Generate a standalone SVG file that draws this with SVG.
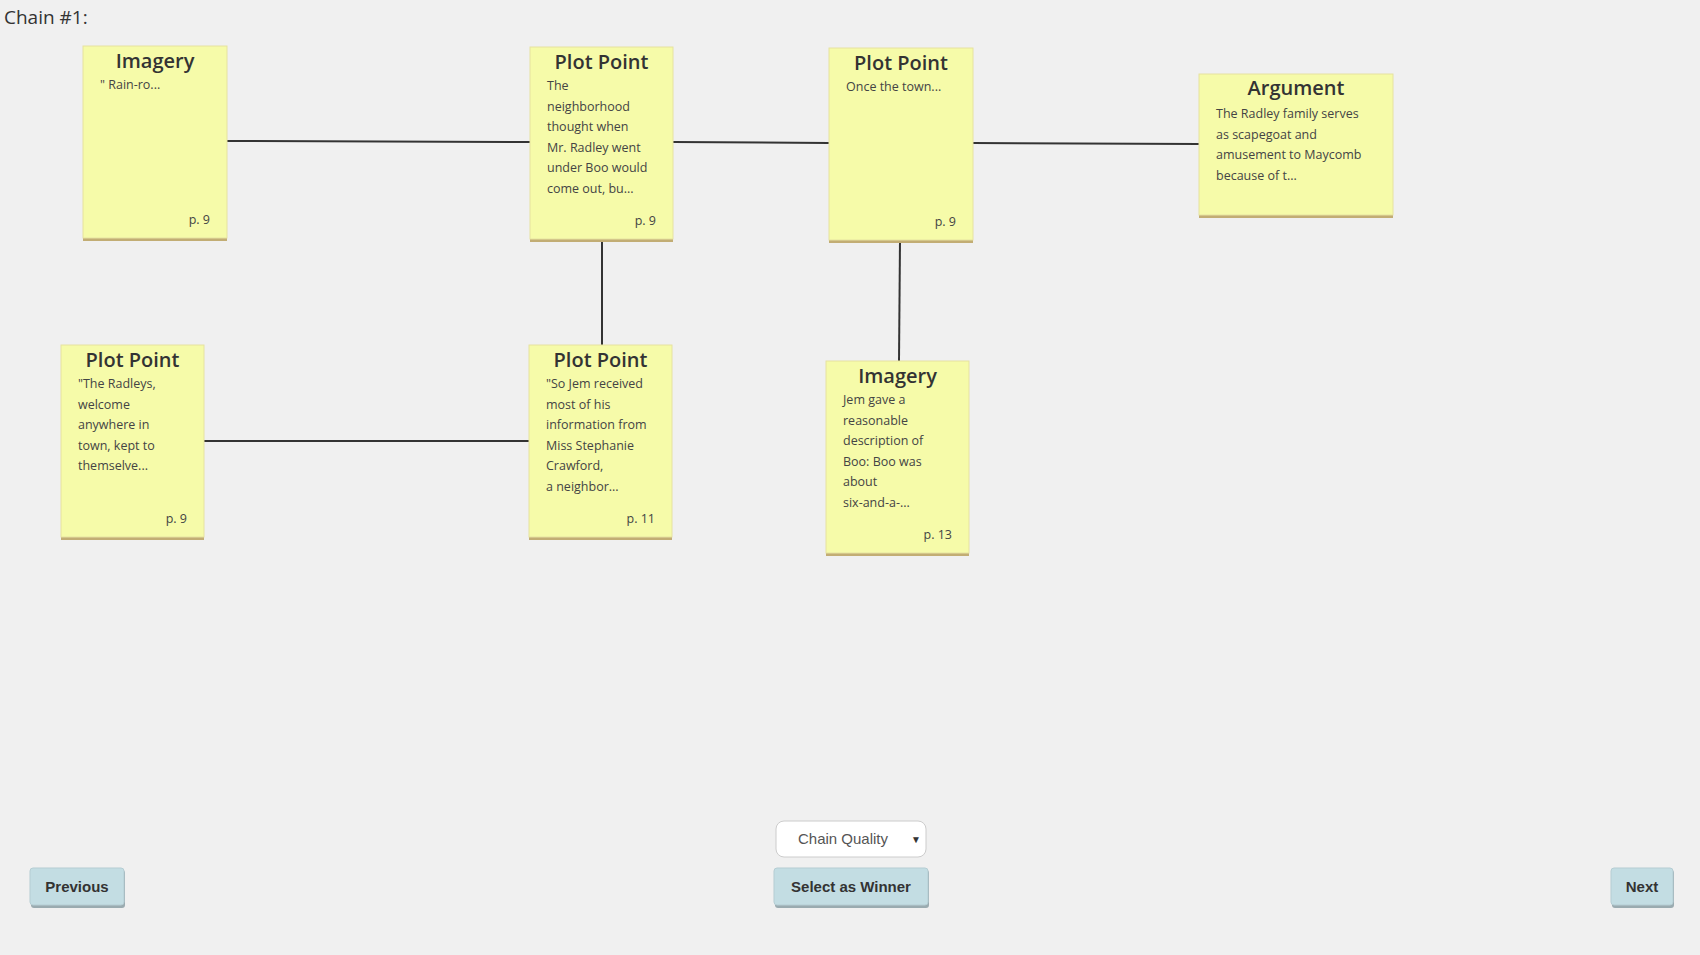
<svg xmlns="http://www.w3.org/2000/svg" width="1700" height="955" viewBox="0 0 1700 955">
<style>
.note{fill:#f6fba9;stroke:#e6e2a0;stroke-width:1}
.shadow{fill:#c2ad74}
.t{font-family:"Open Sans","Liberation Sans",sans-serif;font-size:20px;fill:#333;text-anchor:middle;font-weight:600}
.b{font-family:"Open Sans","Liberation Sans",sans-serif;font-size:12.5px;fill:#444}
.p{font-family:"Open Sans","Liberation Sans",sans-serif;font-size:12.5px;fill:#444;text-anchor:end}
.c{stroke:#333;stroke-width:2;fill:none}
.btn{fill:#c3dde3;stroke:#b5cdd3}
.bt{font-family:"Liberation Sans",Arial,sans-serif;font-size:15px;font-weight:bold;fill:#333;text-anchor:middle}
</style>
<rect width="1700" height="955" fill="#f0f0f0"/>
<text x="4" y="24" font-family="'Open Sans','Liberation Sans',sans-serif" font-size="19" fill="#333">Chain #1:</text>
<g id="connectors">
<line class="c" x1="227" y1="141" x2="530" y2="142"/>
<line class="c" x1="673" y1="142" x2="829" y2="143"/>
<line class="c" x1="973" y1="143" x2="1199" y2="144"/>
<line class="c" x1="602" y1="240" x2="602" y2="345"/>
<line class="c" x1="900" y1="241" x2="899" y2="361"/>
<line class="c" x1="204" y1="441" x2="529" y2="441"/>
</g>
<g id="n1" transform="translate(83,46)">
<rect class="shadow" x="0" y="2" width="144" height="193"/><rect class="note" width="144" height="192"/>
<text class="t" x="72" y="22">Imagery</text>
<text class="b" x="17" y="43">" Rain-ro...</text>
<text class="p" x="127" y="178">p. 9</text>
</g>
<g id="n2" transform="translate(530,47)">
<rect class="shadow" x="0" y="2" width="143" height="193"/><rect class="note" width="143" height="192"/>
<text class="t" x="71.5" y="22">Plot Point</text>
<text class="b" x="17" y="43">The</text>
<text class="b" x="17" y="63.6">neighborhood</text>
<text class="b" x="17" y="84.2">thought when</text>
<text class="b" x="17" y="104.8">Mr. Radley went</text>
<text class="b" x="17" y="125.4">under Boo would</text>
<text class="b" x="17" y="146">come out, bu...</text>
<text class="p" x="126" y="178">p. 9</text>
</g>
<g id="n3" transform="translate(829,48)">
<rect class="shadow" x="0" y="2" width="144" height="193"/><rect class="note" width="144" height="192"/>
<text class="t" x="72" y="22">Plot Point</text>
<text class="b" x="17" y="43">Once the town...</text>
<text class="p" x="127" y="178">p. 9</text>
</g>
<g id="n4" transform="translate(1199,74)">
<rect class="shadow" x="0" y="2" width="194" height="142"/><rect class="note" width="194" height="141"/>
<text class="t" x="97" y="21">Argument</text>
<text class="b" x="17" y="44">The Radley family serves</text>
<text class="b" x="17" y="64.6">as scapegoat and</text>
<text class="b" x="17" y="85.2">amusement to Maycomb</text>
<text class="b" x="17" y="105.8">because of t...</text>
</g>
<g id="n5" transform="translate(61,345)">
<rect class="shadow" x="0" y="2" width="143" height="193"/><rect class="note" width="143" height="192"/>
<text class="t" x="71.5" y="22">Plot Point</text>
<text class="b" x="17" y="43">"The Radleys,</text>
<text class="b" x="17" y="63.6">welcome</text>
<text class="b" x="17" y="84.2">anywhere in</text>
<text class="b" x="17" y="104.8">town, kept to</text>
<text class="b" x="17" y="125.4">themselve...</text>
<text class="p" x="126" y="178">p. 9</text>
</g>
<g id="n6" transform="translate(529,345)">
<rect class="shadow" x="0" y="2" width="143" height="193"/><rect class="note" width="143" height="192"/>
<text class="t" x="71.5" y="22">Plot Point</text>
<text class="b" x="17" y="43">"So Jem received</text>
<text class="b" x="17" y="63.6">most of his</text>
<text class="b" x="17" y="84.2">information from</text>
<text class="b" x="17" y="104.8">Miss Stephanie</text>
<text class="b" x="17" y="125.4">Crawford,</text>
<text class="b" x="17" y="146">a neighbor...</text>
<text class="p" x="126" y="178">p. 11</text>
</g>
<g id="n7" transform="translate(826,361)">
<rect class="shadow" x="0" y="2" width="143" height="193"/><rect class="note" width="143" height="192"/>
<text class="t" x="71.5" y="22">Imagery</text>
<text class="b" x="17" y="43">Jem gave a</text>
<text class="b" x="17" y="63.6">reasonable</text>
<text class="b" x="17" y="84.2">description of</text>
<text class="b" x="17" y="104.8">Boo: Boo was</text>
<text class="b" x="17" y="125.4">about</text>
<text class="b" x="17" y="146">six-and-a-...</text>
<text class="p" x="126" y="178">p. 13</text>
</g>
<g id="dropdown">
<rect x="776" y="821" width="150" height="36" rx="8" fill="#fff" stroke="#ccc"/>
<text x="843" y="844" font-family="'Liberation Sans',Arial,sans-serif" font-size="15" fill="#555" text-anchor="middle">Chain Quality</text>
<text x="916" y="843" font-family="'Liberation Sans',Arial,sans-serif" font-size="10" fill="#333" text-anchor="middle">▼</text>
</g>
<g id="btn-prev">
<rect x="31" y="870" width="94" height="38" rx="3" fill="#9aabb0"/><rect class="btn" x="30" y="868" width="94" height="37" rx="3"/>
<text class="bt" x="77" y="892">Previous</text>
</g>
<g id="btn-select">
<rect x="775" y="870" width="154" height="38" rx="3" fill="#9aabb0"/><rect class="btn" x="774" y="868" width="154" height="37" rx="3"/>
<text class="bt" x="851" y="892">Select as Winner</text>
</g>
<g id="btn-next">
<rect x="1612" y="870" width="62" height="38" rx="3" fill="#9aabb0"/><rect class="btn" x="1611" y="868" width="62" height="37" rx="3"/>
<text class="bt" x="1642" y="892">Next</text>
</g>
</svg>
